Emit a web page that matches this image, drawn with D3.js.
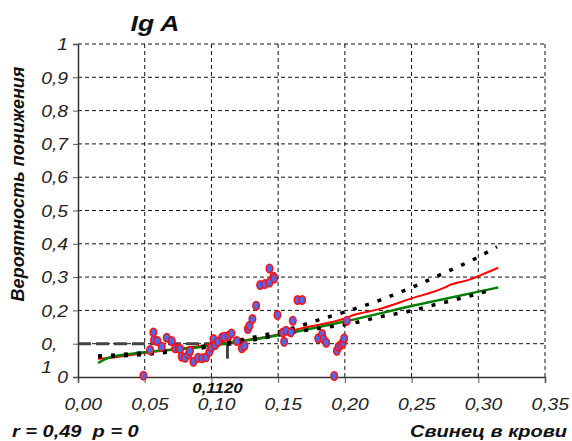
<!DOCTYPE html>
<html>
<head>
<meta charset="utf-8">
<script src="https://cdn.jsdelivr.net/npm/d3@7"></script>
<style>
  html, body { margin: 0; padding: 0; background: #fff; }
  svg text { font-family: "Liberation Sans", Arial, sans-serif; font-style: italic; white-space: pre; }
</style>
</head>
<body>
<svg id="chart" width="572" height="441"></svg>
<script>
// Blood lead (x) vs probability of reduced IgA (y)
const leadValues = [0.049, 0.054, 0.0565, 0.057, 0.0595, 0.0628, 0.0665, 0.0703, 0.0728, 0.0753,
  0.0765, 0.0778, 0.0803, 0.0828, 0.084, 0.0865, 0.090, 0.093, 0.096, 0.0985,
  0.100, 0.1015, 0.1028, 0.105, 0.108, 0.1097, 0.113, 0.115, 0.119, 0.1228,
  0.1248, 0.1273, 0.1285, 0.1307, 0.1335, 0.1365, 0.140, 0.1435, 0.1435, 0.1465,
  0.147, 0.1495, 0.1535, 0.1545, 0.156, 0.1595, 0.161, 0.1645, 0.168, 0.180,
  0.183, 0.184, 0.186, 0.192, 0.194, 0.1953, 0.197, 0.1985, 0.1995, 0.2015];
const probValues = [0.004, 0.081, 0.134, 0.111, 0.108, 0.091, 0.118, 0.108, 0.086, 0.086,
  0.084, 0.061, 0.058, 0.068, 0.078, 0.046, 0.058, 0.056, 0.059, 0.076,
  0.089, 0.114, 0.096, 0.106, 0.119, 0.121, 0.124, 0.131, 0.108, 0.086,
  0.094, 0.144, 0.154, 0.174, 0.214, 0.276, 0.279, 0.284, 0.326, 0.301,
  0.296, 0.186, 0.134, 0.106, 0.139, 0.134, 0.169, 0.231, 0.231, 0.116,
  0.129, 0.113, 0.103, 0.003, 0.079, 0.091, 0.096, 0.103, 0.116, 0.169];

// Fitted curve (green), smoothed curve (red), confidence bounds (black dotted)
const fitX   = [0.015, 0.023, 0.043, 0.088, 0.148, 0.2015, 0.25, 0.315];
const fitY   = [0.042, 0.058, 0.071, 0.088, 0.124, 0.168, 0.213, 0.269];
const smoothX = [0.015, 0.025, 0.05, 0.10, 0.15, 0.167, 0.20, 0.2065, 0.225, 0.25, 0.275, 0.278, 0.294, 0.30, 0.315];
const smoothY = [0.055, 0.058, 0.072, 0.098, 0.128, 0.146, 0.176, 0.186, 0.203, 0.236, 0.269, 0.275, 0.293, 0.303, 0.328];
const upperX = [0.015, 0.05, 0.09, 0.13, 0.163, 0.18, 0.1965, 0.2265, 0.2465, 0.2765, 0.2965, 0.314];
const upperY = [0.063, 0.073, 0.090, 0.118, 0.149, 0.171, 0.191, 0.231, 0.263, 0.316, 0.353, 0.391];
const lowerX = [0.015, 0.05, 0.09, 0.13, 0.15, 0.1765, 0.2065, 0.2265, 0.2465, 0.2665, 0.2865, 0.308];
const lowerY = [0.061, 0.068, 0.086, 0.110, 0.126, 0.144, 0.162, 0.181, 0.196, 0.216, 0.236, 0.259];

// Threshold marker
const thresholdX = 0.1120;
const thresholdY = 0.1;
const thresholdLabel = "0,1120";

const xTicks = [0, 0.05, 0.10, 0.15, 0.20, 0.25, 0.30, 0.35];
const xTickLabels = ["0,00", "0,05", "0,10", "0,15", "0,20", "0,25", "0,30", "0,35"];
const yTicks = [0, 0.1, 0.2, 0.3, 0.4, 0.5, 0.6, 0.7, 0.8, 0.9, 1];
const yTickLabels = ["0", "0,1", "0,2", "0,3", "0,4", "0,5", "0,6", "0,7", "0,8", "0,9", "1"];

const titleText = "Ig A";
const yTitle = "Вероятность понижения";
const xTitle = "Свинец в крови";
const statsText = "r = 0,49  p = 0";

const svg = d3.select("#chart");
const x = d3.scaleLinear().domain([0, 0.35]).range([78, 545]);
const y = d3.scaleLinear().domain([0, 1]).range([377, 44]);

const SX = 1.17;   // horizontal widening of the label type

// grid
const grid = svg.append("g");
grid.selectAll("line.h").data(yTicks.filter(d => d > 0)).join("line")
  .attr("x1", x(0)).attr("x2", x(0.35))
  .attr("y1", d => y(d)).attr("y2", d => y(d))
  .attr("stroke", "#111").attr("stroke-width", 1).attr("stroke-dasharray", "4,3");
grid.selectAll("line.v").data(xTicks.filter(d => d > 0)).join("line")
  .attr("x1", d => x(d)).attr("x2", d => x(d))
  .attr("y1", y(0)).attr("y2", y(1))
  .attr("stroke", "#111").attr("stroke-width", 1).attr("stroke-dasharray", "4,3");

// threshold reference lines
svg.append("line")
  .attr("x1", x(0)).attr("x2", x(thresholdX))
  .attr("y1", y(thresholdY)).attr("y2", y(thresholdY))
  .attr("stroke", "#444").attr("stroke-width", 3).attr("stroke-dasharray", "13,5");
svg.append("line")
  .attr("x1", x(thresholdX)).attr("x2", x(thresholdX))
  .attr("y1", y(thresholdY)).attr("y2", y(0.055))
  .attr("stroke", "#444").attr("stroke-width", 3);

// axes
const xAxis = d3.axisBottom(x).tickValues(xTicks).tickSize(6).tickFormat((d, i) => xTickLabels[i]);
const gx = svg.append("g").attr("transform", `translate(0,${y(0)})`).call(xAxis);
gx.select(".domain").attr("stroke", "#333").attr("stroke-width", 1.5);
gx.selectAll(".tick line").attr("stroke", "#555");
gx.selectAll(".tick text").attr("font-size", 16.5).attr("fill", "#222")
  .attr("x", 4).attr("dy", "1.45em").attr("transform", `scale(${SX},1)`);

const yAxis = d3.axisLeft(y).tickValues(yTicks).tickSize(5).tickFormat((d, i) => yTickLabels[i]);
const gy = svg.append("g").attr("transform", `translate(${x(0)},0)`).call(yAxis);
gy.select(".domain").attr("stroke", "#333").attr("stroke-width", 1.5);
gy.selectAll(".tick line").attr("stroke", "#555");
gy.selectAll(".tick text").attr("font-size", 16.5).attr("fill", "#222")
  .attr("x", -10 / SX).attr("dy", "0.35em").attr("transform", `scale(${SX},1)`);
// the 0,1 label wraps: its last digit drops to a second line
gy.selectAll(".tick text").filter(d => d === 0.1).each(function () {
  const t = d3.select(this);
  const full = t.text();
  const w = this.getComputedTextLength();
  const left = -10 / SX - w;
  t.text(null).attr("text-anchor", "start").attr("x", null);
  t.append("tspan").attr("x", left).text(full.slice(0, 2));
  t.append("tspan").attr("x", left).attr("dy", 23).text(full.slice(2));
});

// curves
const line = d3.line().x(d => x(d[0])).y(d => y(d[1])).curve(d3.curveMonotoneX);
svg.append("path").datum(d3.zip(smoothX, smoothY)).attr("d", line)
  .attr("fill", "none").attr("stroke", "#ff0000").attr("stroke-width", 2);
svg.append("path").datum(d3.zip(fitX, fitY)).attr("d", line)
  .attr("fill", "none").attr("stroke", "#008000").attr("stroke-width", 2.5);
[[upperX, upperY], [lowerX, lowerY]].forEach(([bx, by]) => {
  svg.append("path").datum(d3.zip(bx, by)).attr("d", line)
    .attr("fill", "none").attr("stroke", "#000").attr("stroke-width", 3.5)
    .attr("stroke-dasharray", "4,9");
});

// observations
svg.append("g").selectAll("ellipse").data(d3.zip(leadValues, probValues)).join("ellipse")
  .attr("cx", d => x(d[0])).attr("cy", d => y(d[1]))
  .attr("rx", 3.2).attr("ry", 4.2)
  .attr("fill", "#5068f0").attr("stroke", "#ff1010").attr("stroke-width", 1.6);

// labels
function label(px, py, text, size, anchor, sx) {
  return svg.append("text")
    .attr("transform", `translate(${px},${py}) scale(${sx},1)`)
    .attr("text-anchor", anchor).attr("font-size", size)
    .attr("font-weight", "bold").attr("fill", "#111").text(text);
}
label(217.5, 393, thresholdLabel, 14.5, "middle", 1.17);
label(155, 31, titleText, 22, "middle", 1.2);
label(12, 437, statsText, 16, "start", 1.25);
label(567, 437, xTitle, 16, "end", 1.25);
svg.append("text").attr("transform", "translate(24,184) rotate(-90)")
  .attr("text-anchor", "middle").attr("font-size", 18).attr("font-weight", "bold").attr("fill", "#111")
  .text(yTitle);
</script>
</body>
</html>
